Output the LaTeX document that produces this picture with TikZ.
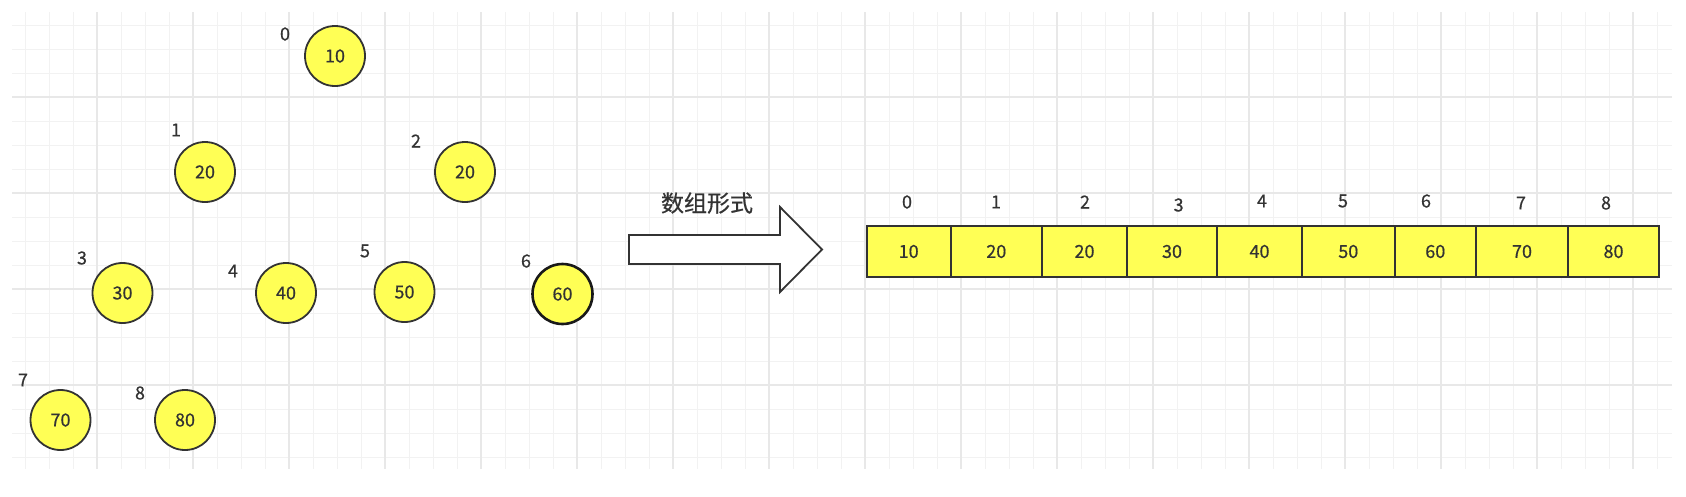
\documentclass[tikz,border=0pt]{standalone}
\usepackage{fontspec}
\setmainfont[FakeBold=0.6]{Noto Sans CJK SC}
\definecolor{minorg}{HTML}{F2F2F2}
\definecolor{majorg}{HTML}{E8E8E8}
\definecolor{ink}{HTML}{333333}
\definecolor{ballfill}{HTML}{FFFF55}
\begin{document}
\begin{tikzpicture}[x=1pt,y=-1pt,
  minorline/.style={draw=minorg,line width=1pt},
  majorline/.style={draw=majorg,line width=1.2pt},
  ball/.style={circle,draw=ink,line width=1.8pt,fill=ballfill,minimum size=60,inner sep=0pt,
    font=\fontsize{18}{20}\selectfont,text=ink},
  idx/.style={inner sep=0pt,font=\fontsize{18}{20}\selectfont,text=ink},
  cell/.style={rectangle,draw=ink,line width=1.8pt,fill=ballfill,minimum height=51,inner sep=0pt,
    font=\fontsize{18}{20}\selectfont,text=ink},
  bigarrow/.style={draw=ink,line width=1.8pt,fill=white,line join=miter},
  caption/.style={inner sep=0pt,font=\fontsize{23}{26}\selectfont,text=ink}]
\useasboundingbox[fill=white] (0,0) rectangle (1686,496);
% grid
\draw[minorline] \foreach \x in {25,49,...,1657} {(\x,12)--(\x,469)};
\draw[minorline] \foreach \y in {25,49,...,457} {(12,\y)--(1672,\y)};
\draw[majorline] \foreach \x in {97,193,...,1633} {(\x,12)--(\x,469)};
\draw[majorline] \foreach \y in {97,193,...,385} {(12,\y)--(1672,\y)};
% tree nodes as circles
\node[ball] (c0) at (335,56) {10};
\node[ball] (c1) at (205,172) {20};
\node[ball] (c2) at (465,172) {20};
\node[ball] (c3) at (122.5,293) {30};
\node[ball] (c4) at (286,293) {40};
\node[ball] (c5) at (404.5,292) {50};
\node[ball,draw=black!90,line width=2.6pt] (c6) at (562.5,294) {60};
\node[ball] (c7) at (60.5,420) {70};
\node[ball] (c8) at (185,420) {80};
% index labels
\node[idx] (l0) at (285,34) {0};
\node[idx] (l1) at (176,130) {1};
\node[idx] (l2) at (416,141) {2};
\node[idx] (l3) at (82,258) {3};
\node[idx] (l4) at (233,271) {4};
\node[idx] (l5) at (365,251) {5};
\node[idx] (l6) at (526,261) {6};
\node[idx] (l7) at (23,380) {7};
\node[idx] (l8) at (140,393) {8};
% arrow
\draw[bigarrow] (629,235) -- (780,235) -- (780,207) -- (822,249.5) -- (780,292) -- (780,264) -- (629,264) -- cycle;
\node[caption] (cap) at (707,203) {数组形式};
% array
\foreach \l/\r/\v/\lx/\ly [count=\i from 0] in {
  866.7/950.6/10/907/202, 950.6/1042/20/996/202, 1042/1127/20/1085/202,
  1127/1217/30/1178.6/205, 1217/1302/40/1262/201, 1302/1394.6/50/1343/201,
  1394.6/1476/60/1426/201, 1476/1568/70/1521/203, 1568/1659/80/1606/203} {
  \pgfmathsetmacro{\w}{\r-\l}
  \pgfmathsetmacro{\cx}{(\l+\r)/2}
  \node[cell,minimum width=\w] (a\i) at (\cx,251.5) {\v};
  \node[idx] (b\i) at (\lx,\ly) {\i};
}
\end{tikzpicture}
\end{document}
